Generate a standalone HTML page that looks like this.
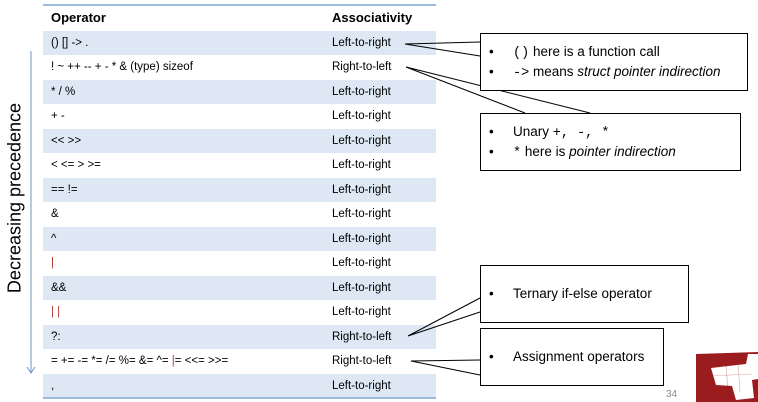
<!DOCTYPE html>
<html><head><meta charset="utf-8"><style>
body{margin:0;width:758px;height:401px;background:#fff;position:relative;overflow:hidden;font-family:"Liberation Sans",sans-serif;color:#000}
.r{position:absolute;left:43px;width:393px;height:24.5px;font-size:11.5px;line-height:24.5px}
.b{background:#dde8f4}
.o{position:absolute;left:8px}
.a{position:absolute;left:289px}
.box{position:absolute;border:1px solid #000;background:#fff;font-size:13.5px}
.box div{position:absolute;white-space:nowrap}
.m{font-family:"Liberation Mono",monospace}
.red{color:#b03a2e}
</style></head><body>
<div style="position:absolute;left:43px;top:4px;width:393px;height:2px;background:#9bbbe0"></div>
<div class="r" style="top:6px;height:24.5px;font-weight:bold;font-size:13px"><span class="o">Operator</span><span class="a">Associativity</span></div>
<div class="r b" style="top:30.5px"><span class="o">() [] -&gt; .</span><span class="a">Left-to-right</span></div>
<div class="r" style="top:55px"><span class="o">! ~ ++ -- + - * &amp; (type) sizeof</span><span class="a">Right-to-left</span></div>
<div class="r b" style="top:79.5px"><span class="o">* / %</span><span class="a">Left-to-right</span></div>
<div class="r" style="top:104px"><span class="o">+ -</span><span class="a">Left-to-right</span></div>
<div class="r b" style="top:128.5px"><span class="o">&lt;&lt; &gt;&gt;</span><span class="a">Left-to-right</span></div>
<div class="r" style="top:153px"><span class="o">&lt; &lt;= &gt; &gt;=</span><span class="a">Left-to-right</span></div>
<div class="r b" style="top:177.5px"><span class="o">== !=</span><span class="a">Left-to-right</span></div>
<div class="r" style="top:202px"><span class="o">&amp;</span><span class="a">Left-to-right</span></div>
<div class="r b" style="top:226.5px"><span class="o">^</span><span class="a">Left-to-right</span></div>
<div class="r" style="top:251px"><span class="o red">|</span><span class="a">Left-to-right</span></div>
<div class="r b" style="top:275.5px"><span class="o">&amp;&amp;</span><span class="a">Left-to-right</span></div>
<div class="r" style="top:300px"><span class="o red">| |</span><span class="a">Left-to-right</span></div>
<div class="r b" style="top:324.5px"><span class="o">?:</span><span class="a">Right-to-left</span></div>
<div class="r" style="top:349px"><span class="o">= += -= *= /= %= &amp;= ^= <span class="red">|</span>= &lt;&lt;= &gt;&gt;=</span><span class="a">Right-to-left</span></div>
<div class="r b" style="top:373.5px"><span class="o">,</span><span class="a">Left-to-right</span></div>
<div style="position:absolute;left:43px;top:397px;width:393px;height:1.5px;background:#9bbbe0"></div>

<div style="position:absolute;left:15px;top:198px;transform:translate(-50%,-50%) rotate(-90deg);font-size:18px;white-space:nowrap">Decreasing precedence</div>

<svg width="758" height="401" style="position:absolute;left:0;top:0" fill="none">
<line x1="31" y1="51" x2="31" y2="373" stroke="#6b93c7" stroke-width="1"/>
<polyline points="27,367 31,373 35,367" stroke="#6b93c7"/>
<g stroke="#000" stroke-width="1">
<polyline points="480,42 405,44 480,56"/>
<polyline points="525,113 406,67 590,113"/>
<polyline points="480,298 408,336 480,312"/>
<polyline points="480,360 411,361 480,375"/>
</g>
</svg>

<div class="box" style="left:480px;top:33px;width:266px;height:56px">
<div style="left:8px;top:10px">•</div><div style="left:32px;top:10px"><span class="m">()</span> here is a function call</div>
<div style="left:8px;top:30px">•</div><div style="left:32px;top:30px"><span class="m">-&gt;</span> means <i>struct pointer indirection</i></div>
</div>
<div class="box" style="left:480px;top:113px;width:259px;height:56px">
<div style="left:8px;top:10px">•</div><div style="left:32px;top:10px">Unary <span class="m">+, -, *</span></div>
<div style="left:8px;top:30px">•</div><div style="left:32px;top:30px"><span class="m">*</span> here is <i>pointer indirection</i></div>
</div>
<div class="box" style="left:480px;top:265px;width:207px;height:56px">
<div style="left:8px;top:20px">•</div><div style="left:32px;top:20px">Ternary if-else operator</div>
</div>
<div class="box" style="left:480px;top:328px;width:182px;height:56px">
<div style="left:8px;top:20px">•</div><div style="left:32px;top:20px">Assignment operators</div>
</div>

<div style="position:absolute;left:666px;top:389px;font-size:10px;color:#888">34</div>
<svg width="62" height="50" style="position:absolute;left:696px;top:352px">
<polygon points="0,2 62,0 62,50 0,50" fill="#9b1c1f"/>
<polygon points="15,16 50,12 52,2 62,2 62,27 56,28 58,46 40,48 36,34 20,33" fill="#fff"/>
<g stroke="#9b1c1f" stroke-width="0.6" opacity="0.4"><line x1="30" y1="10" x2="32" y2="40"/><line x1="42" y1="10" x2="44" y2="40"/><line x1="14" y1="24" x2="56" y2="22"/></g>
</svg>
</body></html>
